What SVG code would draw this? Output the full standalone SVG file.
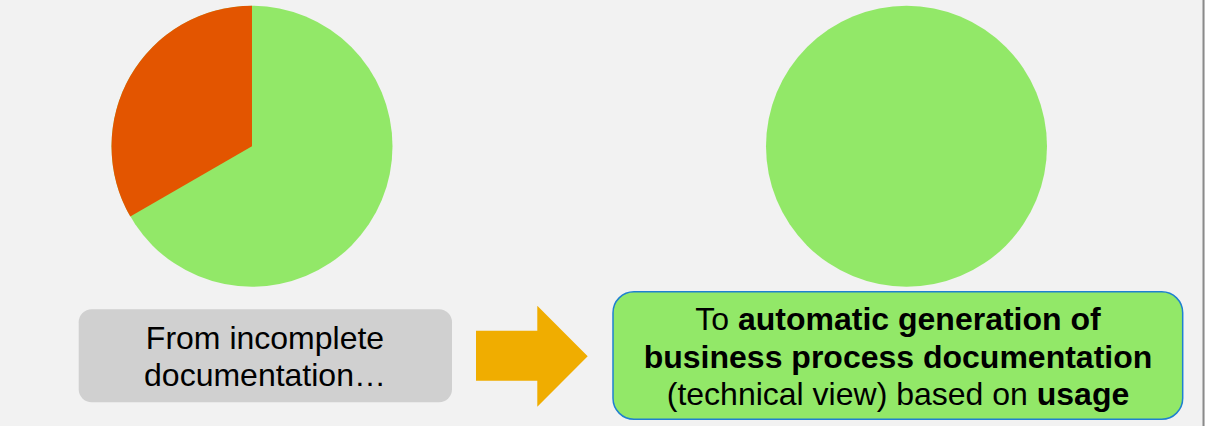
<svg xmlns="http://www.w3.org/2000/svg" width="1205" height="426" viewBox="0 0 1205 426">
<style>
.t{font-family:"Liberation Sans",Arial,sans-serif;font-size:32px;fill:#000;text-anchor:middle}
.b{font-weight:bold}
.green{fill:#92e868}
</style>
<rect x="0" y="0" width="1205" height="426" fill="#f2f2f2"/>
<line x1="1203.5" y1="0" x2="1203.5" y2="426" stroke="#8a8a8a" stroke-width="2"/>
<g id="pie-before">
<circle class="green" cx="252" cy="146.3" r="140.5"/>
<path d="M252,146.3 L252,5.8 A140.5,140.5 0 0 0 130.3,216.55 Z" fill="#e35500"/>
</g>
<g id="pie-after">
<circle class="green" cx="906.5" cy="146.3" r="140.5"/>
</g>
<g id="from-box">
<rect x="78.7" y="309.3" width="373.3" height="93" rx="13" fill="#d0d0d0"/>
<text class="t" x="265" y="348.5">From incomplete</text>
<text class="t" x="265" y="385.5">documentation…</text>
</g>
<g id="connectors">
<polygon points="476,330.7 537.3,330.7 537.3,305.7 587.7,356.2 537.3,406.7 537.3,380.7 476,380.7" fill="#f0ad00"/>
</g>
<g id="to-box">
<rect x="613" y="291.7" width="569.7" height="127.6" rx="21" class="green" stroke="#1f80d0" stroke-width="1.5"/>
<text class="t" x="898" y="330">To <tspan class="b">automatic generation of</tspan></text>
<text class="t b" x="898" y="367.5">business process documentation</text>
<text class="t" x="898" y="405">(technical view) based on <tspan class="b">usage</tspan></text>
</g>
</svg>
